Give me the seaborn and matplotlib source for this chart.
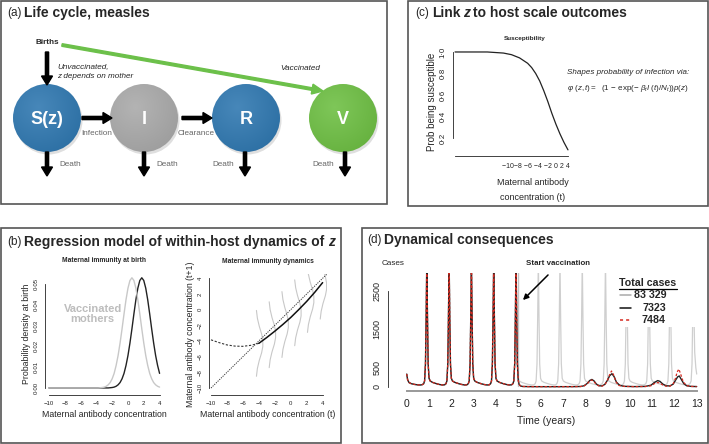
import numpy as np
import pandas as pd
import matplotlib
matplotlib.use("Agg")
import matplotlib.pyplot as plt
import seaborn as sns
from matplotlib.patches import Circle, Rectangle
from matplotlib.colors import to_rgb

sns.set_style("white")
plt.rcParams['font.family'] = ['Liberation Sans', 'DejaVu Sans']
plt.rcParams['mathtext.fontset'] = 'custom'
plt.rcParams['mathtext.rm'] = 'Liberation Sans'
plt.rcParams['mathtext.it'] = 'Liberation Sans:italic'
plt.rcParams['mathtext.bf'] = 'Liberation Sans:bold'

#---- data ----
#(c) susceptibility curve
susc_x = [-10, -8, -6, -5, -4, -3, -2, -1, -0.5, 0, 0.5, 1, 1.5, 2, 2.5, 3, 3.5, 4]
susc_y = [1.0, 1.0, 1.0, 0.995, 0.99, 0.975, 0.945, 0.895, 0.855, 0.80, 0.73, 0.64, 0.54, 0.43, 0.33, 0.24, 0.16, 0.09]
susc_ticklabels = '\u221210\u22128 \u22126 \u22124 \u22122 0 2 4'

#(b) left: density at birth
birth_x = [-10, -3, -2.5, -2.25, -2, -1.75, -1.5, -1.25, -1, -0.75, -0.5, -0.25, 0, 0.25, 0.5, 0.75, 1,
           1.25, 1.5, 1.75, 2, 2.25, 2.5, 2.75, 3, 3.25, 3.5, 3.75, 4]
birth_unvacc = [0, 0, 0, 0.0001, 0.0002, 0.0004, 0.0008, 0.0015, 0.0026, 0.0044, 0.0070, 0.0108, 0.0156,
                0.0216, 0.0284, 0.0356, 0.0424, 0.0480, 0.0517, 0.0530, 0.0517, 0.0480, 0.0424, 0.0356,
                0.0284, 0.0216, 0.0156, 0.0108, 0.0070]
vmum_x = [-10, -4, -3.75, -3.5, -3.25, -3, -2.75, -2.5, -2.25, -2, -1.75, -1.5, -1.25, -1, -0.75, -0.5,
          -0.25, 0, 0.25, 0.5, 0.75, 1, 1.25, 1.5, 1.75, 2, 2.25, 2.5, 2.75, 3, 3.25, 3.5, 3.75, 4]
birth_vacc = [0, 0, 0, 0.0001, 0.0002, 0.0004, 0.0008, 0.0015, 0.0026, 0.0044, 0.0070, 0.0108, 0.0156,
              0.0216, 0.0284, 0.0356, 0.0424, 0.0480, 0.0517, 0.0530, 0.0517, 0.0480, 0.0424, 0.0356,
              0.0284, 0.0216, 0.0156, 0.0108, 0.0070, 0.0044, 0.0026, 0.0015, 0.0008, 0.0004]

#(b) right: antibody dynamics
diag = [-10, 4.5]
dyn_dash_x = [-10, -9, -8, -7, -6, -5, -4]
dyn_dash_y = [-3.85, -4.2, -4.5, -4.65, -4.68, -4.55, -4.3]
dyn_x = [-4, -3, -2, -1, 0, 1, 2, 3, 4]
dyn_y = [-4.3, -3.55, -2.75, -1.9, -1.0, 0.0, 1.05, 2.2, 3.45]
#sideways densities of z(t+1): base position, centre, and one shared bell profile
kern_x0 = [-4.3, -2.7, -1.1, 0.5, 2.1, 3.7]
kern_mid = [-4.3, -3.2, -1.9, -0.4, 1.3, 3.0]
kern_dy = [-4.2, -3.2, -2.2, -1.2, -0.4, 0.4, 1.2, 2.2, 3.2, 4.2]
kern_dx = [0.0, 0.12, 0.35, 0.65, 0.8, 0.8, 0.65, 0.35, 0.12, 0.0]

#(d) weekly-ish case counts, identical for all runs before vaccination
t_pre = [0.00, 0.04, 0.10, 0.20, 0.35, 0.50, 0.62, 0.70, 0.76, 0.80, 0.84, 0.87, 0.90, 0.93, 0.96,
         1.00, 1.05, 1.15, 1.30, 1.45, 1.60, 1.70, 1.76, 1.80, 1.84, 1.87, 1.90, 1.93, 1.96,
         2.00, 2.05, 2.15, 2.30, 2.45, 2.60, 2.70, 2.76, 2.80, 2.84, 2.87, 2.90, 2.93, 2.96,
         3.00, 3.05, 3.15, 3.30, 3.45, 3.60, 3.70, 3.76, 3.80, 3.84, 3.87, 3.90, 3.93, 3.96,
         4.00, 4.05, 4.15, 4.30, 4.45, 4.60, 4.70, 4.76, 4.80, 4.84, 4.87, 4.90, 4.93]
c_pre = [330, 180, 110, 80, 60, 48, 45, 55, 80, 150, 600, 1800, 3300, 1800, 600,
         220, 150, 115, 85, 60, 45, 50, 80, 150, 600, 1800, 3300, 1800, 600,
         220, 150, 115, 85, 60, 45, 50, 80, 150, 600, 1800, 3300, 1800, 600,
         220, 150, 115, 85, 60, 45, 50, 80, 150, 600, 1800, 3300, 1800, 600,
         220, 150, 115, 85, 60, 45, 50, 80, 150, 600, 1800, 3300, 1800]
t_gray = [4.96, 5.00, 5.05, 5.15, 5.30, 5.45, 5.60, 5.70, 5.76, 5.80, 5.84, 5.87, 5.90, 5.93, 5.96,
          6.00, 6.05, 6.15, 6.30, 6.45, 6.60, 6.68, 6.73, 6.77, 6.81, 6.84, 6.87, 6.90, 6.93,
          6.97, 7.02, 7.12, 7.27, 7.42, 7.57, 7.66, 7.73, 7.77, 7.81, 7.84, 7.87, 7.90, 7.93,
          7.97, 8.02, 8.12, 8.27, 8.42, 8.57, 8.68, 8.76, 8.81, 8.85, 8.88, 8.91, 8.94, 8.97,
          9.01, 9.06, 9.16, 9.31, 9.46, 9.60, 9.66, 9.72, 9.76, 9.80, 9.83, 9.86, 9.89, 9.92,
          9.96, 10.01, 10.11, 10.26, 10.41, 10.56, 10.65, 10.72, 10.76, 10.80, 10.83, 10.86, 10.89, 10.92,
          10.96, 11.01, 11.11, 11.26, 11.41, 11.55, 11.62, 11.67, 11.71, 11.75, 11.78, 11.81, 11.84, 11.87,
          11.91, 11.96, 12.06, 12.21, 12.36, 12.52, 12.62, 12.70, 12.75, 12.79, 12.82, 12.85, 12.88, 12.91,
          12.96, 13.00]
c_gray = [600, 220, 150, 115, 85, 60, 45, 50, 80, 150, 600, 1800, 3300, 1800, 600,
          220, 150, 115, 85, 60, 45, 50, 80, 150, 600, 1800, 3300, 1800, 600,
          220, 150, 115, 85, 60, 45, 50, 80, 150, 600, 1800, 3300, 1800, 600,
          220, 150, 115, 85, 60, 45, 50, 80, 150, 600, 1800, 3300, 1800, 600,
          220, 150, 115, 85, 60, 45, 50, 80, 150, 600, 1800, 3300, 1800, 600,
          220, 150, 115, 85, 60, 45, 50, 80, 150, 600, 1800, 3300, 1800, 600,
          220, 150, 115, 85, 60, 45, 50, 80, 150, 600, 1800, 3300, 1800, 600,
          220, 150, 115, 85, 60, 45, 50, 80, 150, 600, 1800, 3300, 1800, 900,
          500, 330]
t_black = [4.96, 5.00, 5.04, 5.10, 5.20, 5.5, 6.5, 7.5, 7.8, 7.95, 8.1, 8.2, 8.3, 8.4, 8.5, 8.62, 8.75,
           8.88, 9.0, 9.1, 9.2, 9.3, 9.4, 9.55, 9.75, 10.2, 10.7, 10.95, 11.1, 11.25, 11.35, 11.48, 11.62,
           11.8, 11.95, 12.05, 12.15, 12.22, 12.3, 12.42, 12.55, 12.75, 13.0]
c_black = [600, 160, 60, 20, 6, 2, 1, 2, 6, 25, 90, 160, 190, 150, 70, 25, 20,
           60, 170, 290, 340, 260, 120, 35, 10, 3, 8, 40, 110, 160, 140, 70, 25,
           20, 70, 170, 260, 280, 200, 80, 25, 8, 4]
t_red = [4.96, 5.00, 5.04, 5.10, 5.20, 5.5, 6.5, 7.5, 7.8, 7.95, 8.1, 8.2, 8.3, 8.4, 8.5, 8.62, 8.75,
         8.88, 9.0, 9.1, 9.18, 9.26, 9.38, 9.5, 9.75, 10.2, 10.7, 10.95, 11.1, 11.25, 11.35, 11.48, 11.62,
         11.8, 11.95, 12.05, 12.12, 12.2, 12.28, 12.4, 12.55, 12.75, 13.0]
c_red = [600, 160, 60, 20, 6, 2, 1, 2, 6, 20, 80, 150, 175, 130, 60, 20, 15,
         50, 170, 320, 410, 330, 130, 35, 8, 2, 5, 25, 80, 110, 95, 45, 15,
         15, 80, 220, 380, 460, 330, 120, 30, 8, 3]
totals = ['83 329', '7323', '7484']

#---- figure, everything positioned in pixels of a 709x444 canvas ----
W, H = 709, 444
fig = plt.figure(figsize=(W / 100, H / 100), dpi=100)

def px_axes(l, t, r, b):
    return fig.add_axes([l / W, 1 - b / H, (r - l) / W, (b - t) / H])

def r_style(ax, xt, yt, xl, yl, size, ycol='#222'):
    #base-R look: L axes trimmed to the tick range, outward ticks
    sns.despine(ax=ax)
    ax.spines['left'].set_bounds(yt[0], yt[-1])
    ax.spines['bottom'].set_bounds(xt[0], xt[-1])
    for s in ['left', 'bottom']:
        ax.spines[s].set_linewidth(0.6)
        ax.spines[s].set_color(ycol)
    ax.set_xticks(xt)
    ax.set_xticklabels(xl, fontsize=size)
    ax.set_yticks(yt)
    ax.set_yticklabels(yl, fontsize=size, rotation=90, va='center')
    ax.tick_params(direction='out', length=3, width=0.6, pad=1.5, colors='#222')
    ax.patch.set_alpha(0)
    ax.set_xlabel('')
    ax.set_ylabel('')

mdot = lambda v, f: (f % v).replace('.', '\u00b7')
neg = lambda v: str(v).replace('-', '\u2212')

#(c) susceptibility
ax_c = px_axes(453, 48, 572, 156)
sns.lineplot(x=susc_x, y=susc_y, ax=ax_c, color='#222', linewidth=0.9)
ax_c.set_xlim(-10.25, 4.5)
ax_c.set_ylim(0.033, 1.037)
xt = [-10, -8, -6, -4, -2, 0, 2, 4]
r_style(ax_c, xt, [0.2, 0.4, 0.6, 0.8, 1.0], ['' for v in xt],
        [mdot(v, '%.1f') for v in [0.2, 0.4, 0.6, 0.8, 1.0]], 5.6)
ax_c.set_ylabel('Prob being susceptible', fontsize=7, labelpad=2)
ax_c.set_title('Susceptibility', fontsize=4.6, fontweight='bold', pad=6, x=0.6)

#(b) left: maternal immunity at birth
ax_b1 = px_axes(45, 273, 164, 395)
sns.lineplot(x=birth_x, y=birth_unvacc, ax=ax_b1, color='#222', linewidth=1.0)
sns.lineplot(x=vmum_x, y=birth_vacc, ax=ax_b1, color='#c8c8c8', linewidth=1.0)
ax_b1.set_xlim(-10.5, 4.56)
ax_b1.set_ylim(-0.0034, 0.0553)
yt = [0, 0.01, 0.02, 0.03, 0.04, 0.05]
r_style(ax_b1, xt, yt, [neg(v) for v in xt], [mdot(v, '%.2f') for v in yt], 4.3)
ax_b1.set_ylabel('Probability density at birth', fontsize=6.3, labelpad=2)
ax_b1.set_xlabel('Maternal antibody concentration', fontsize=6.3, labelpad=3)
ax_b1.set_title('Maternal immunity at birth', fontsize=4.8, fontweight='bold', pad=8)
ax_b1.text(-4.45, 0.0356, 'Vaccinated\nmothers', fontsize=8, fontweight='bold', color='#bdbdbd',
           ha='center', va='center', linespacing=1.05)

#(b) right: within-host dynamics
ax_b2 = px_axes(209, 274, 327, 395)
for x0, m in zip(kern_x0, kern_mid):
    sns.lineplot(x=[x0 + d for d in kern_dx], y=[m + d for d in kern_dy], ax=ax_b2,
                 color='#c8c8c8', linewidth=0.8, sort=False, estimator=None)
sns.lineplot(x=diag, y=diag, ax=ax_b2, color='#333', linewidth=0.7, linestyle=(0, (1.2, 1.2)))
sns.lineplot(x=dyn_dash_x, y=dyn_dash_y, ax=ax_b2, color='#333', linewidth=0.8, linestyle=(0, (2, 1.5)))
sns.lineplot(x=dyn_x, y=dyn_y, ax=ax_b2, color='#111', linewidth=1.1)
ax_b2.set_xlim(-10.25, 4.55)
ax_b2.set_ylim(-10.89, 4.55)
yt2 = [-10, -8, -6, -4, -2, 0, 2, 4]
r_style(ax_b2, xt, yt2, [neg(v) for v in xt], [neg(v) for v in yt2], 4.3)
ax_b2.set_ylabel('Maternal antibody concentration (t+1)', fontsize=6.3, labelpad=2)
ax_b2.set_xlabel('Maternal antibody concentration (t)', fontsize=6.3, labelpad=3)
ax_b2.set_title('Maternal immunity dynamics', fontsize=4.8, fontweight='bold', pad=8)

#(d) dynamics
ax_d = px_axes(388, 273.3, 703.4, 391)
gray_df = pd.DataFrame({'t': t_pre + t_gray, 'cases': c_pre + c_gray})
black_df = pd.DataFrame({'t': t_pre + t_black, 'cases': c_pre + c_black})
red_df = pd.DataFrame({'t': t_pre + t_red, 'cases': c_pre + c_red})
ax_d.axvline(5, ymin=0.04, ymax=1, color='#c4c4c4', linewidth=1.0)
sns.lineplot(data=gray_df, x='t', y='cases', ax=ax_d, color='#cfcfcf', linewidth=0.9)
sns.lineplot(data=black_df, x='t', y='cases', ax=ax_d, color='#222', linewidth=1.0)
sns.lineplot(data=red_df, x='t', y='cases', ax=ax_d, color='#d62a20', linewidth=0.9,
             linestyle=(0, (2, 1.5)))
ax_d.set_xlim(-0.84, 13.3)
ax_d.set_ylim(-112, 2963)
r_style(ax_d, list(range(14)), [0, 500, 1000, 1500, 2000, 2500], [str(v) for v in range(14)],
        ['0', '500', '', '1500', '', '2500'], 6.5)
ax_d.tick_params(axis='x', labelsize=7.5, pad=3)
ax_d.spines['bottom'].set_color('#999')
ax_d.spines['bottom'].set_linewidth(1.4)
ax_d.set_xlabel('Time (years)', fontsize=7.5, labelpad=5)

#---- overlay: boxes, titles, life-cycle diagram, annotations ----
ov = fig.add_axes([0, 0, 1, 1])
ov.axis('off')
ov.patch.set_alpha(0)
renderer = fig.canvas.get_renderer()

#life cycle compartments, softly shaded discs (shadow behind, disc image above it)
blue, grey, green = '#2e77b0', '#a9a9a9', '#6dbf42'
gy, gx = np.mgrid[-1:1:120j, -1:1:120j]
shade = np.clip(np.hypot(gx + 0.25, gy + 0.3) / 1.6, 0, 1)[..., None]
for cx, col, lab in [(47, blue, 'S(z)'), (144, grey, 'I'), (246, blue, 'R'), (343, green, 'V')]:
    base = np.array(to_rgb(col))
    img = (base * 0.88 + 0.12) * (1 - shade) + base * 0.92 * shade
    ov.add_patch(Circle((cx + 1.5, 120.5), 34, color='#00000020', linewidth=0, zorder=0.5))
    disc = Circle((cx, 118), 34, facecolor='none', edgecolor='none')
    ov.add_patch(disc)
    im = ov.imshow(img, extent=(cx - 34, cx + 34, 152, 84), interpolation='bilinear', zorder=1.5)
    im.set_clip_path(disc)
    ov.text(cx, 119, lab, color='white', fontsize=13, fontweight='bold', ha='center', va='center',
            zorder=3)
ov.set_aspect('auto')
ov.set_xlim(0, W)
ov.set_ylim(H, 0)

for l, t, r, b in [(1, 1, 387, 204), (408, 1, 708, 206), (1, 228, 341, 443), (362, 228, 708, 443)]:
    ov.add_patch(Rectangle((l, t), r - l, b - t, fill=False, edgecolor='#555', linewidth=1.2))

def title_run(x, y, parts):
    for s, style in parts:
        t = ov.text(x, y, s, fontsize=10 if style != 'tag' else 8.5, va='center', ha='left',
                    fontweight='normal' if style == 'tag' else 'bold',
                    fontstyle='italic' if style == 'it' else 'normal')
        x += t.get_window_extent(renderer).width + 3

title_run(7, 13, [('(a)', 'tag'), ('Life cycle, measles', 'b')])
title_run(415, 13, [('(c)', 'tag'), ('Link', 'b'), ('z', 'it'), ('to host scale outcomes', 'b')])
title_run(7, 242, [('(b)', 'tag'), ('Regression model of within-host dynamics of', 'b'), ('z', 'it')])
title_run(367, 240, [('(d)', 'tag'), ('Dynamical consequences', 'b')])

arr = dict(width=3.2, head_width=11, head_length=9, length_includes_head=True, color='black', zorder=2)
ov.arrow(47, 52, 0, 33, **arr)
ov.arrow(82, 118, 30, 0, **arr)
ov.arrow(182, 118, 30, 0, **arr)
for x in [47, 144, 245, 345]:
    ov.arrow(x, 152, 0, 24, **arr)
ov.arrow(62, 45, 261, 46, width=2.6, head_width=10, head_length=11, length_includes_head=True,
         color='#6cc04a', zorder=2)

small = dict(fontsize=5.9, va='center')
ov.text(36, 43, 'Births', fontweight='bold', **small)
ov.text(57, 67, 'Unvaccinated,', fontstyle='italic', **small)
ov.text(57, 77, 'z depends on mother', fontstyle='italic', **small)
ov.text(320, 68, 'Vaccinated', fontstyle='italic', ha='right', **small)
ov.text(81, 133, 'Infection', color='#666', zorder=3, **small)
ov.text(178, 133, 'Clearance', color='#666', zorder=3, **small)
for x, ha in [(59, 'left'), (156, 'left'), (234, 'right'), (334, 'right')]:
    ov.text(x, 164, 'Death', color='#666', ha=ha, **small)

#(c) crowded tick labels as in the original, x label, and the formula
ov.text(570, 166, susc_ticklabels, fontsize=5.0, ha='right', va='center')
ov.text(533, 182, 'Maternal antibody', fontsize=6.5, ha='center', va='center')
ov.text(533, 197, 'concentration (t)', fontsize=6.5, ha='center', va='center')
ov.text(567, 72, 'Shapes probability of infection via:', fontsize=5.8, fontstyle='italic', va='center')
ov.text(567, 89, r'$\varphi\ (z,t) =$  (1 $-$ exp($-$ $\beta_t I$ $(t)/N_t$))$p(z)$', fontsize=5.8,
        va='center')

#(d) annotations and legend
ov.text(382, 263, 'Cases', fontsize=5.9, va='center')
ov.text(558, 263, 'Start vaccination', fontsize=5.7, fontweight='bold', ha='center', va='center')
ov.annotate('', xy=(521, 302), xytext=(550, 273),
            arrowprops=dict(arrowstyle='-|>', color='black', lw=1.1, mutation_scale=8))
ov.add_patch(Rectangle((614, 268), 90, 59, facecolor='white', edgecolor='none'))
ov.text(619, 283, 'Total cases', fontsize=7.7, fontweight='bold', va='center')
ov.plot([619, 677], [289, 289], color='black', linewidth=0.9)
leg_styles = [('#aaa', '-'), ('#111', '-'), ('#d62a20', (0, (2, 2)))]
for (col, ls), lab, y in zip(leg_styles, totals, [295, 308, 320]):
    ov.plot([620, 631], [y, y], color=col, linestyle=ls, linewidth=1.1)
    ov.text(666, y, lab, fontsize=7.7, fontweight='bold', ha='right', va='center')

fig.savefig('out.png', dpi=100)
